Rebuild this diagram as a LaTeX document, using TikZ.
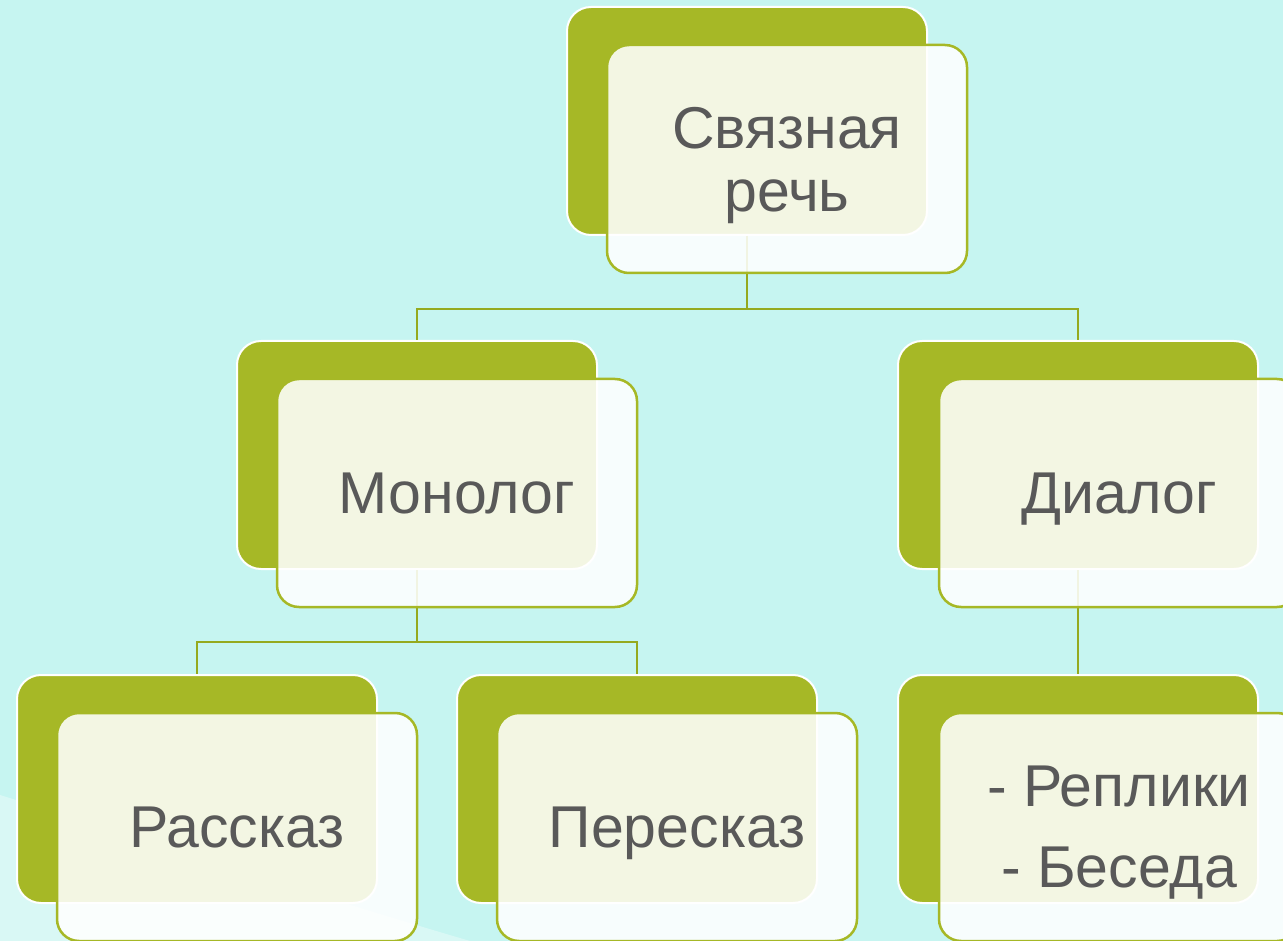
\documentclass[tikz,border=0pt]{standalone}
\usepackage{fontspec}
\setmainfont{Liberation Sans}
\definecolor{bgc}{HTML}{C6F5F1}
\definecolor{grn}{HTML}{A6B826}
\definecolor{lnc}{HTML}{95AA1F}
\definecolor{txt}{HTML}{595959}
\begin{document}
\begin{tikzpicture}[x=1pt,y=-1pt,
  backbox/.style={draw=white, line width=2pt, fill=grn, rounded corners=24pt,
    minimum width=360pt, minimum height=228pt, inner sep=0pt},
  frontbox/.style={draw=grn, line width=2.5pt, fill=white, fill opacity=0.875,
    text opacity=1, rounded corners=22pt, minimum width=360pt, minimum height=228pt,
    inner sep=0pt, text=txt, font=\fontsize{59}{63}\selectfont, align=center,
    text depth=0pt},
  conn/.style={draw=lnc, line width=2.5pt}]
\useasboundingbox (0,0) rectangle (1283,941);
\clip (0,0) rectangle (1283,941);
\fill[bgc] (0,0) rectangle (1283,941);
\fill[white, opacity=0.35] (0,795) .. controls (160,845) and (330,900) .. (470,941) -- (0,941) -- cycle;
% back boxes
\node[backbox] (b1) at (747,121) {};
\node[backbox] (b2) at (417,455) {};
\node[backbox] (b3) at (1078,455) {};
\node[backbox] (b4) at (197,789) {};
\node[backbox] (b5) at (637,789) {};
\node[backbox] (b6) at (1078,789) {};
% connectors
\draw[conn] (b1.south) -- ++(0,73) coordinate (j1);
\draw[conn] (j1) -| (b2.north);
\draw[conn] (j1) -| (b3.north);
\draw[conn] (b2.south) -- ++(0,72) coordinate (j2);
\draw[conn] (j2) -| (b4.north);
\draw[conn] (j2) -| (b5.north);
\draw[conn] (b3.south) -- (b6.north);
% front boxes
\node[frontbox] (f1) at (787,159) {Связная\\речь};
\node[frontbox] (f2) at (457,493) {Монолог};
\node[frontbox] (f3) at (1119,493) {Диалог};
\node[frontbox] (f4) at (237,827) {Рассказ};
\node[frontbox] (f5) at (677,827) {Пересказ};
\node[frontbox, font=\fontsize{59}{81}\selectfont] (f6) at (1119,827) {- Реплики\\- Беседа};
\end{tikzpicture}
\end{document}
